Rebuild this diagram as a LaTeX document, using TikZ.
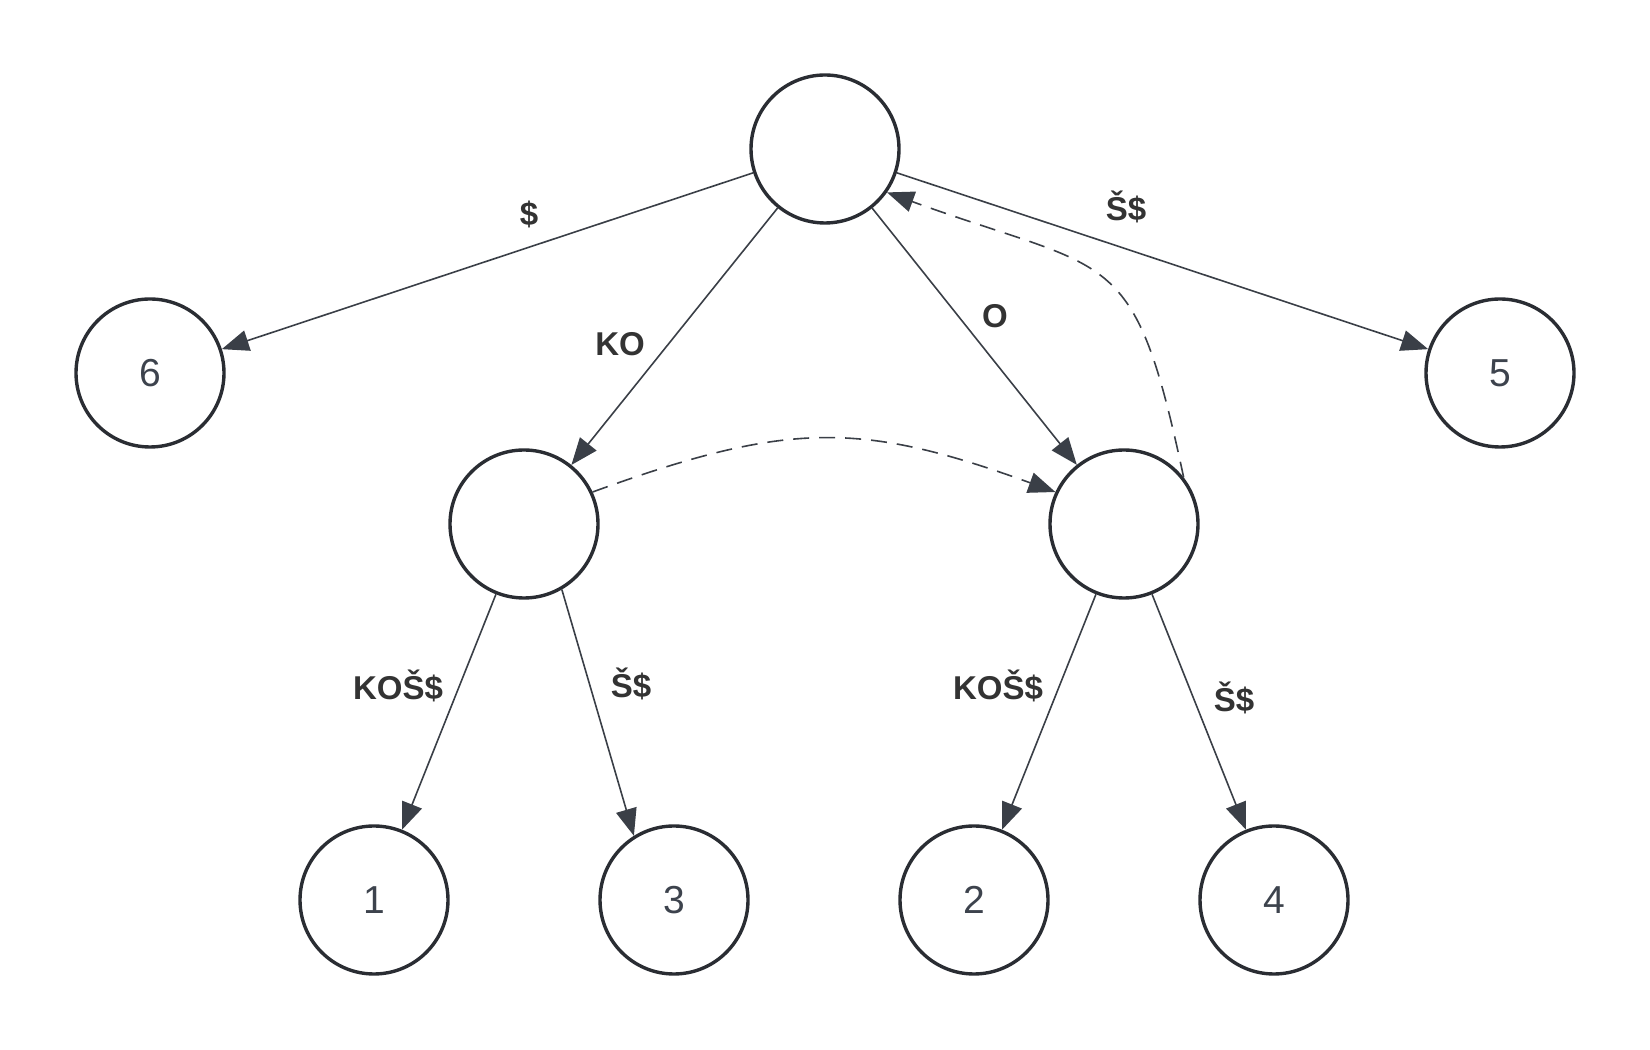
\documentclass[tikz,border=0pt]{standalone}
\usepackage{fontspec}
\setmainfont{Liberation Sans}
\usetikzlibrary{arrows.meta}
\definecolor{edgegray}{HTML}{3A3F47}
\definecolor{nodeline}{HTML}{2A2D33}
\definecolor{labelgray}{HTML}{333333}
\definecolor{digitgray}{HTML}{3D434D}
\tikzset{
  state/.style={circle,draw=nodeline,line width=3.4pt,minimum size=148pt,inner sep=0pt,
    text=digitgray,font=\fontsize{39}{44}\selectfont},
  edge/.style={draw=edgegray,line width=1.6pt,-{Triangle[length=27pt,width=21pt]}},
  link/.style={edge,dash pattern=on 16pt off 10pt},
  lbl/.style={text=labelgray,font=\fontsize{33}{38}\selectfont\bfseries}
}

\begin{document}
\begin{tikzpicture}[x=1pt,y=1pt]
    \useasboundingbox (0,0) rectangle (1650,1050);
    \node[state] (root) at (825,901) {};
    \node[state] (n6) at (150,677) {6};
    \node[state] (n5) at (1500,677) {5};
    \node[state] (L) at (524,526) {};
    \node[state] (R) at (1124,526) {};
    \foreach \n/\x in {1/374,3/674,2/974,4/1274}{\node[state] (n\n) at (\x,150) {\n};}
    \foreach \a/\b in {root/n6,root/L,root/R,root/n5,L/n1,R/n2,R/n4}{\draw[edge] (\a) -- (\b);}
    \draw[edge] (L.-60) -- (n3.122);
    % suffix links
    \draw[link] (L.25) to[out=20,in=160,looseness=1.15] (R.155);
    \draw[link] (R.38) to[out=102,in=-20,looseness=1.5] (root.-35);
    \node[lbl] (l6) at (529,836) {\$};
    \node[lbl] (lL) at (620,706) {KO};
    \node[lbl] (lR) at (995,734) {O};
    \node[lbl] (l5) at (1126,843) {Š\$};
    \node[lbl] (l1) at (398,364) {KOŠ\$};
    \node[lbl] (l3) at (631,366) {Š\$};
    \node[lbl] (l2) at (998,364) {KOŠ\$};
    \node[lbl] (l4) at (1234,352) {Š\$};
  \end{tikzpicture}
\end{document}
